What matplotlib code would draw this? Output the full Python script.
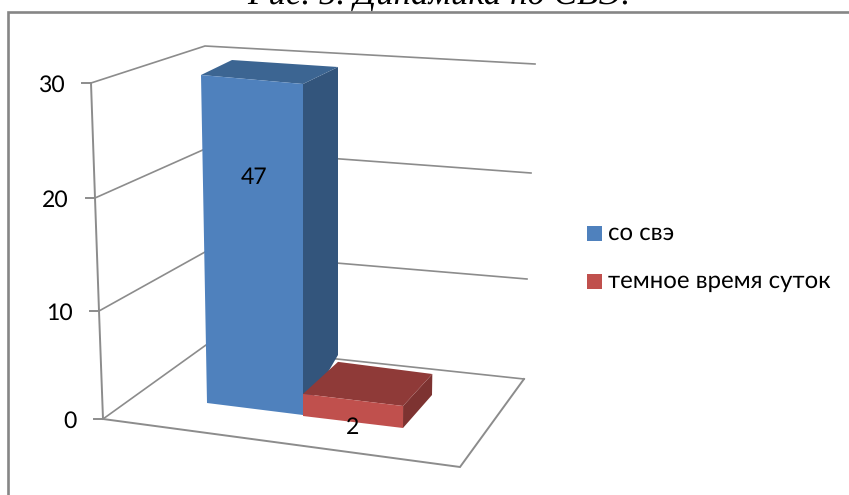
import matplotlib
matplotlib.use("Agg")
import matplotlib.pyplot as plt
from matplotlib.patches import Polygon, Rectangle

plt.rcParams["text.hinting"] = "no_hinting"
plt.rcParams["text.hinting_factor"] = 1

title = "Рис. 5. Динамика по СВЭ."
series_names = ["со свэ", "темное время суток"]
series_values = [47, 2]
value_ticks = [0, 10, 20, 30]
axis_max = 30

W, H = 849, 495
GRAY = "#8c8c8c"
FRAME = "#868686"
FONT = ["Lato", "Open Sans", "DejaVu Sans"]

# Projected geometry of the 3D plot box: wall corner pixels at each tick level (perspective)
WALL_FRONT_LEFT = [(103, 419), (99, 311), (95, 198), (91, 83)]
WALL_BACK_LEFT = [(206, 345), (205, 252), (205, 149), (205, 46)]
WALL_BACK_RIGHT = [(524, 379), (527, 279), (531, 173), (535, 64)]
FLOOR_FRONT_RIGHT = (460, 467)
# Footprint of each bar (front-left, front-right, back-right, back-left): floor, then axis_max level
BARS = [
    {"floor": [(207, 403), (303, 415), (338, 355), (240, 345)],
     "top": [(201, 75), (303, 84), (338, 67), (232, 60)],
     "front": "#4f81bd", "side": "#33557c", "cap": "#3c6592", "label": (254, 178)},
    {"floor": [(303, 416), (403, 428), (432, 395), (338, 384)],
     "top": [(303, 85), (404, 98), (437, 80), (338, 52)],
     "front": "#c0504d", "side": "#7d3331", "cap": "#8f3a38", "label": (353, 427)},
]


def lerp(a, b, t):
    return (a[0] + (b[0] - a[0]) * t, a[1] + (b[1] - a[1]) * t)


fig = plt.figure(figsize=(W / 100, H / 100), dpi=100)
ax = fig.add_axes([0, 0, 1, 1])
ax.set_xlim(0, W)
ax.set_ylim(H, 0)
ax.axis("off")

# Chart frame runs off the right and bottom edges of the picture
ax.plot([W + 5, 8.5, 8.5], [12, 12, H + 5], color=FRAME, lw=1.9, solid_joinstyle="miter", clip_on=True)
ax.text(247, 3.5, title, family="Liberation Serif", style="italic", fontsize=25,
        ha="left", va="baseline")

# Walls and gridlines
for i, v in enumerate(value_ticks):
    pts = [WALL_FRONT_LEFT[i], WALL_BACK_LEFT[i], WALL_BACK_RIGHT[i]]
    ax.plot(*zip(*pts), color=GRAY, lw=1.2, solid_joinstyle="miter")
    fx, fy = pts[0]
    ax.plot([fx - 9, fx], [fy, fy], color=GRAY, lw=1.4)
    ax.text(fx - 26, fy + 2.5, str(v), family=FONT, fontsize=16.5, ha="right", va="center", color="black")
ax.plot(*zip(*WALL_FRONT_LEFT), color=GRAY, lw=1.4)
ax.plot(*zip(WALL_FRONT_LEFT[0], FLOOR_FRONT_RIGHT, WALL_BACK_RIGHT[0]), color=GRAY, lw=1.4,
        solid_joinstyle="miter")

# Bars (values beyond the axis maximum are clipped at it)
for val, bar in zip(series_values, BARS):
    t = min(val, axis_max) / axis_max
    base = bar["floor"]
    up = [lerp(f, g, t) for f, g in zip(bar["floor"], bar["top"])]
    ax.add_patch(Polygon([base[1], base[2], up[2], up[1]], fc=bar["side"], ec="none", zorder=3))
    ax.add_patch(Polygon([up[0], up[1], up[2], up[3]], fc=bar["cap"], ec="none", zorder=3))
    ax.add_patch(Polygon([base[0], base[1], up[1], up[0]], fc=bar["front"], ec="none", zorder=3))
    ax.text(*bar["label"], str(val), family=FONT, fontsize=16.5, ha="center", va="center", zorder=5)

# Legend
for (name, bar, y) in zip(series_names, BARS, (233.5, 281.5)):
    ax.add_patch(Rectangle((587, y - 7.5), 15, 15, fc=bar["front"], ec="none"))
    ax.text(608, y, name, family=FONT, fontsize=17.3, ha="left", va="center")

fig.savefig("out.png", dpi=100)
